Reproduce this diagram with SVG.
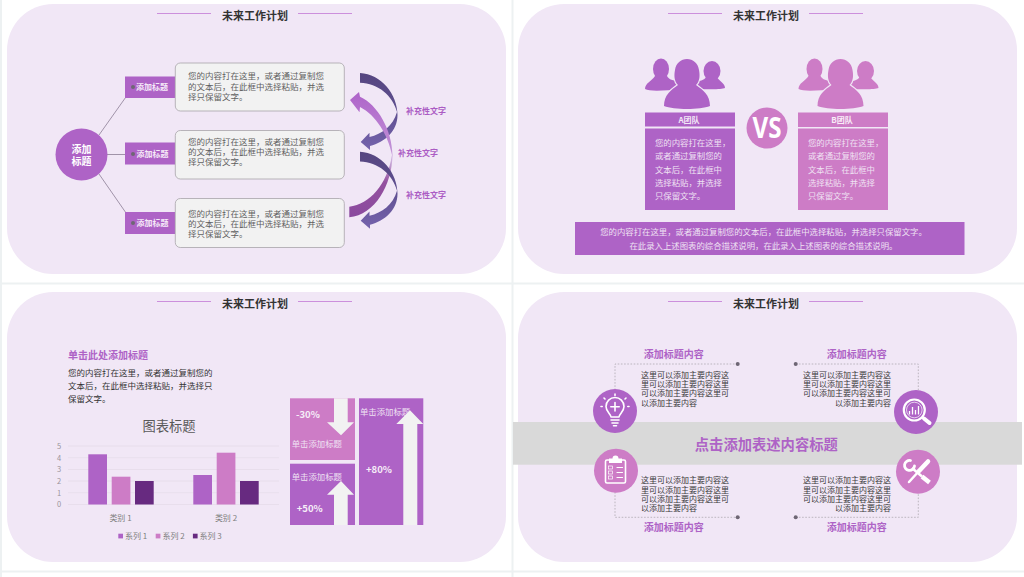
<svg xmlns="http://www.w3.org/2000/svg" width="1024" height="577" viewBox="0 0 1024 577">
<style>
text{font-family:"Noto Sans CJK SC","Liberation Sans",sans-serif}
.panel{fill:#f1e7f6}
.title{font-size:11px;font-weight:700;fill:#333;text-anchor:middle}
.tl{stroke:#cc8fdc;stroke-width:1}
.p{fill:#ae63c6}.q{fill:#cd7cc6}.r{fill:#672a80}
.lab{font-size:8px;font-weight:700;fill:#f5e9f8}
.body{font-size:8.5px;fill:#5f5f5f}
.box{fill:#f2f2f2;stroke:#a8a4aa;stroke-width:.8}
.dot{fill:#6e6674}
.link{stroke:#7d6f86;stroke-width:.7;fill:none}
.sup{font-size:8px;font-weight:700;fill:#ab5cc4}
.w{font-size:8.4px;fill:#efe1f3}
.grid{stroke:#e6dcea;stroke-width:.8}
.ax{font-size:7.5px;fill:#9a949c}
.cat{font-size:8px;fill:#7f7f7f}
.ar{fill:#f2f2f2}
.pct{font-size:9.5px;font-weight:700;fill:#f6eef8}
.hd{font-size:10px;font-weight:700;fill:#ae63c6}
.t8{font-size:8px;fill:#3a3a3a}
.dash{stroke:#a5a0a8;stroke-width:.7;stroke-dasharray:1.6 1.6;fill:none}
.ic{fill:none;stroke:#fff;stroke-width:1.6;stroke-linecap:round;stroke-linejoin:round}
.if{fill:#fff}
.cut{stroke:#f1e7f6;stroke-width:2.5;paint-order:stroke}
</style>
<defs>
<linearGradient id="gd" x1="0" y1="0" x2="0" y2="1"><stop offset="0" stop-color="#564680"/><stop offset=".5" stop-color="#5f4f90"/><stop offset="1" stop-color="#7563ad"/></linearGradient>
<linearGradient id="gl" x1="0" y1="0" x2="0" y2="1"><stop offset="0" stop-color="#ae63c9"/><stop offset=".45" stop-color="#c08fd6"/><stop offset=".55" stop-color="#cdb0dc"/><stop offset=".72" stop-color="#94509f"/><stop offset="1" stop-color="#8a4a9e"/></linearGradient>
<rect id="pn" width="499" height="270" rx="46"/>
<g id="people">
<ellipse cx="16" cy="10" rx="8" ry="10.500"/>
<path d="M0,30C0,24 7,22 10,17L22,17C24,21 28,21 34,23L34,31C22,31 5,33 0,30Z"/>
<ellipse cx="67" cy="12" rx="8.500" ry="10"/>
<path d="M80,29C80,24 74,22 72,18L61,18C60,21 54,22 48,24L48,30C60,30 76,31 80,29Z"/>
<g class="cut"><path d="M19,47C19,36 26,31 33,26C29,22 29,16 30,11C31,4 36,0 42,0C48,0 53,4 54,11C55,16 55,22 51,26C58,31 65,36 65,47C55,51 29,51 19,47Z"/></g>
</g>
<path id="rib" d="M360,73C381,74 397.500,94 397.500,115C397.500,131 385,142 370,146L370,150L360.700,142L369.500,132.700L369.500,137C382,134 393,126 397,112C393,96 378,83 360,82.700Z" fill="url(#gd)"/>
</defs>

<rect width="1024" height="577" fill="#fff"/>
<path d="M0,283.500H1024M0,571.500H1024M512.500,0V577M1,0V577" stroke="#edf1f2" stroke-width="2" fill="none"/>

<g id="panels">
<use href="#pn" x="7" y="4" class="panel"/><use href="#pn" x="518" y="4" class="panel"/><use href="#pn" x="7" y="292" class="panel"/><use href="#pn" x="518" y="292" class="panel"/>
</g>
<g id="headers">
<path class="tl" d="M157,13.500H211M298,13.500H352M668,13.500H722M809,13.500H863M157,301.500H211M298,301.500H352M668,301.500H722M809,301.500H863"/>
<text class="title" x="255" y="20">未来工作计划</text>
<text class="title" x="766" y="20">未来工作计划</text>
<text class="title" x="255" y="308">未来工作计划</text>
<text class="title" x="766" y="308">未来工作计划</text>
</g>

<g id="connectors">
<path class="link" d="M99,135L133,87M107,154.500H133M99,174L133,223"/>
<g id="ribbons">
<use href="#rib"/>
<path d="M350,100L359,92L360,96.700C378,105 392,130 392.500,155C392,185 375,215 349.300,217.300L349.300,206.700C370,204 387,185 392,155C388,135 376,115 360,107L359.500,112.300Z" fill="url(#gl)"/>
<use href="#rib" y="78.700"/>
</g>
</g>
<g id="hub"><circle class="p" cx="81.500" cy="154.500" r="26"/>
<text x="81.500" y="152.500" text-anchor="middle" font-size="10" font-weight="700" fill="#fff">添加</text>
<text x="81.500" y="164.500" text-anchor="middle" font-size="10" font-weight="700" fill="#fff">标题</text></g>
<g id="item1"><rect class="p" x="125" y="76.500" width="50" height="21.500"/><circle class="dot" cx="133" cy="87" r="2"/><text class="lab" x="136" y="90">添加标题</text>
<rect class="box" x="175.300" y="63" width="169" height="48" rx="5"/>
<text class="body"><tspan x="188" y="79">您的内容打在这里，或者通过复制您</tspan><tspan x="188" y="90">的文本后，在此框中选择粘贴，并选</tspan><tspan x="188" y="100">择只保留文字。</tspan></text></g>
<g id="item2"><rect class="p" x="125" y="142.500" width="50" height="22"/><circle class="dot" cx="133" cy="154" r="2"/><text class="lab" x="136.500" y="156.500">添加标题</text>
<rect class="box" x="175.300" y="130.500" width="169" height="48.500" rx="5"/>
<text class="body"><tspan x="188" y="144.500">您的内容打在这里，或者通过复制您</tspan><tspan x="188" y="155">的文本后，在此框中选择粘贴，并选</tspan><tspan x="188" y="165">择只保留文字。</tspan></text></g>
<g id="item3"><rect class="p" x="125" y="212" width="50" height="22"/><circle class="dot" cx="133" cy="223" r="2"/><text class="lab" x="136.500" y="225.500">添加标题</text>
<rect class="box" x="175.300" y="198.500" width="169" height="49" rx="5"/>
<text class="body"><tspan x="188" y="216.500">您的内容打在这里，或者通过复制您</tspan><tspan x="188" y="227">的文本后，在此框中选择粘贴，并选</tspan><tspan x="188" y="237">择只保留文字。</tspan></text></g>
<g id="notes">
<text class="sup" x="406" y="114">补充性文字</text><text class="sup" x="398" y="156">补充性文字</text><text class="sup" x="406" y="198">补充性文字</text>
</g>

<g id="teamA">
<use href="#people" x="645" y="59" class="p"/>
<rect class="p" x="645" y="112.500" width="90" height="14"/><rect class="p" x="645" y="128.500" width="90" height="81.500"/>
<text x="689" y="123" text-anchor="middle" font-size="8" font-weight="700" fill="#f3e7f6">A团队</text>
<text class="w"><tspan x="655" y="146">您的内容打在这里，</tspan><tspan x="655" y="159">或者通过复制您的</tspan><tspan x="655" y="172.500">文本后，在此框中</tspan><tspan x="655" y="186">选择粘贴，并选择</tspan><tspan x="655" y="199">只保留文字。</tspan></text>
</g>
<g id="vs"><circle class="q" cx="767" cy="128" r="20.500"/><text x="767" y="138" text-anchor="middle" font-size="28" font-weight="700" fill="#fff" textLength="29" lengthAdjust="spacingAndGlyphs" style="font-family:'Open Sans','Liberation Sans',sans-serif">VS</text></g>
<g id="teamB">
<use href="#people" x="798.500" y="59" class="q"/>
<rect class="q" x="798" y="112.500" width="90" height="14.500"/><rect class="q" x="798" y="128.500" width="90" height="81.500"/>
<text x="842" y="123" text-anchor="middle" font-size="8" font-weight="700" fill="#f9eef8">B团队</text>
<text class="w"><tspan x="808" y="146">您的内容打在这里，</tspan><tspan x="808" y="159">或者通过复制您的</tspan><tspan x="808" y="172.500">文本后，在此框中</tspan><tspan x="808" y="186">选择粘贴，并选择</tspan><tspan x="808" y="199">只保留文字。</tspan></text>
</g>
<g id="summary"><rect class="p" x="575" y="222" width="389.500" height="33"/>
<text class="w" text-anchor="middle"><tspan x="763.500" y="235">您的内容打在这里，或者通过复制您的文本后，在此框中选择粘贴，并选择只保留文字。</tspan><tspan x="763.500" y="248.500">在此录入上述图表的综合描述说明，在此录入上述图表的综合描述说明。</tspan></text></g>

<g id="intro"><text class="hd" x="68" y="358.500">单击此处添加标题</text>
<text font-size="8.500" fill="#333"><tspan x="68" y="376">您的内容打在这里，或者通过复制您的</tspan><tspan x="68" y="389">文本后，在此框中选择粘贴，并选择只</tspan><tspan x="68" y="402">保留文字。</tspan></text></g>
<g id="chart">
<text x="169" y="431" text-anchor="middle" font-size="13.300" fill="#595959">图表标题</text>
<path class="grid" d="M68,446H279M68,457.700H279M68,469.500H279M68,481H279M68,492.700H279M68,504.500H279"/>
<g class="ax" text-anchor="middle"><text x="59" y="449">5</text><text x="59" y="460.500">4</text><text x="59" y="472">3</text><text x="59" y="484">2</text><text x="59" y="495.500">1</text><text x="59" y="507">0</text></g>
<rect class="p" x="88.300" y="454.300" width="18.700" height="50.200"/><rect class="q" x="111.700" y="476.700" width="18.700" height="27.800"/><rect class="r" x="135" y="481" width="18.700" height="23.500"/>
<rect class="p" x="193.300" y="475" width="18.700" height="29.500"/><rect class="q" x="216.700" y="452.700" width="18.700" height="51.800"/><rect class="r" x="240" y="481" width="18.700" height="23.500"/>
<text class="cat" x="120.500" y="521" text-anchor="middle">类别 1</text><text class="cat" x="226" y="521" text-anchor="middle">类别 2</text>
<rect class="p" x="118.300" y="533.700" width="4.700" height="4.700"/><text class="cat" x="125" y="539">系列 1</text>
<rect class="q" x="155.700" y="533.700" width="4.700" height="4.700"/><text class="cat" x="162.500" y="539">系列 2</text>
<rect class="r" x="192.900" y="533.700" width="4.700" height="4.700"/><text class="cat" x="199.500" y="539">系列 3</text>
</g>
<g id="tileA"><rect class="q" x="290" y="398.300" width="65" height="61.700"/>
<path class="ar" d="M334,398.300H347.700V422.300H354L341,435.300L327,422.300H334Z"/>
<text class="pct" x="296" y="418">-30%</text><text class="w" x="291.700" y="447">单击添加标题</text></g>
<g id="tileB"><rect class="p" x="290" y="463.700" width="65" height="61.300"/>
<text class="w" x="291.700" y="480">单击添加标题</text>
<path class="ar" d="M334,525V494.700H327L341,481L354,494.700H347.700V525Z"/>
<text class="pct" x="296.700" y="512">+50%</text></g>
<g id="tileC"><rect class="p" x="359" y="398.300" width="64.300" height="126.700"/>
<text class="w" x="360" y="414.700">单击添加标题</text>
<path class="ar" d="M403.300,525V424H396.300L410,410.300L423.300,424H417.300V525Z"/>
<text class="pct" x="366" y="472.500">+80%</text></g>

<g id="band"><rect x="513" y="422" width="509" height="42.700" fill="#d9d9d9"/>
<text x="766.300" y="450" text-anchor="middle" font-size="14.300" font-weight="700" fill="#ae63c6">点击添加表述内容标题</text></g>
<g id="frames">
<path class="dash" d="M737.700,364H615V389M795.700,364H918.300V390M615,492V517.300H737.700M795.700,517.300H918.300V493"/>
<circle class="dot" cx="737.700" cy="364" r="2"/><circle class="dot" cx="795.700" cy="364" r="2"/><circle class="dot" cx="737.700" cy="517.300" r="2"/><circle class="dot" cx="795.700" cy="517.300" r="2"/>
</g>
<g id="blockTL"><text class="hd" x="673.700" y="358" text-anchor="middle">添加标题内容</text>
<text class="t8"><tspan x="641" y="378">这里可以添加主要内容这</tspan><tspan x="641" y="387.300">里可以添加主要内容这里</tspan><tspan x="641" y="396.300">可以添加主要内容这里可</tspan><tspan x="641" y="405.700">以添加主要内容</tspan></text>
<circle class="p" cx="615" cy="411" r="22"/>
<path class="ic" d="M611,417C610.500,413.500 606,411.500 606,406.500A9,9 0 0 1 624,406.500C624,411.500 619.500,413.500 619,417ZM611,420H619M612,423H618M613.500,425.800H616.500"/>
<path class="ic" stroke-width="1.800" d="M615,402.500V411M610.800,406.800H619.200M615,394V395.500M604,398L605,399M626,398L625,399M601,406.500H602.200M629,406.500H627.800"/></g>
<g id="blockTR"><text class="hd" x="856.700" y="358" text-anchor="middle">添加标题内容</text>
<text class="t8" text-anchor="end"><tspan x="891" y="378">这里可以添加主要内容这</tspan><tspan x="891" y="387.300">里可以添加主要内容这里</tspan><tspan x="891" y="396.300">可以添加主要内容这里可</tspan><tspan x="891" y="405.700">以添加主要内容</tspan></text>
<circle class="p" cx="916" cy="412" r="22"/>
<circle class="ic" cx="914.300" cy="410" r="10.500" style="stroke-width:2.200"/><circle cx="914.300" cy="410" r="7.800" fill="none" stroke="#fff" stroke-width=".7"/>
<path class="ic" style="stroke-width:4" d="M924,418.500L929.500,423"/>
<path class="ic" style="stroke-width:1.300;stroke-linecap:butt" d="M909.500,414.500V411M912.500,414.500V407M915.500,414.500V410M918.500,414.500V406"/></g>
<g id="blockBL"><text class="hd" x="673.700" y="531" text-anchor="middle">添加标题内容</text>
<text class="t8"><tspan x="641" y="483.300">这里可以添加主要内容这</tspan><tspan x="641" y="492.700">里可以添加主要内容这里</tspan><tspan x="641" y="501.700">可以添加主要内容这里可</tspan><tspan x="641" y="511">以添加主要内容</tspan></text>
<circle class="q" cx="616" cy="470.700" r="22"/>
<rect class="ic" x="605.500" y="460" width="20" height="23" rx="1.500"/>
<path class="if" d="M609,458.500H612.500A3,3 0 0 1 618.500,458.500H622V463H609Z"/>
<path class="ic" style="stroke-width:1.200" d="M617,467.500H622.500M617,472.500H622.500M617,477.500H622.500"/>
<rect x="608.500" y="466" width="4" height="3" fill="none" stroke="#fff" stroke-width=".7"/><rect x="608.500" y="471" width="4" height="3" fill="none" stroke="#fff" stroke-width=".7"/><rect x="608.500" y="476" width="4" height="3" fill="none" stroke="#fff" stroke-width=".7"/></g>
<g id="blockBR"><text class="hd" x="856.700" y="531" text-anchor="middle">添加标题内容</text>
<text class="t8" text-anchor="end"><tspan x="891" y="483.300">这里可以添加主要内容这</tspan><tspan x="891" y="492.700">里可以添加主要内容这里</tspan><tspan x="891" y="501.700">可以添加主要内容这里可</tspan><tspan x="891" y="511">以添加主要内容</tspan></text>
<circle class="q" cx="918" cy="471.700" r="22"/>
<path class="ic" style="stroke-width:4.500" d="M928,461.500L919,471"/>
<path class="ic" style="stroke-width:2.500" d="M919,471L909,482"/>
<path class="ic" style="stroke-width:2.600;stroke-linecap:butt" d="M912,468L922,476.500"/>
<path class="ic" style="stroke-width:4.500;stroke-linecap:butt" d="M922,476.500L929.500,482.500"/>
<path class="ic" style="stroke-width:2.800" d="M910.500,460.500A5,5 0 1 0 914.500,466"/></g>
</svg>
